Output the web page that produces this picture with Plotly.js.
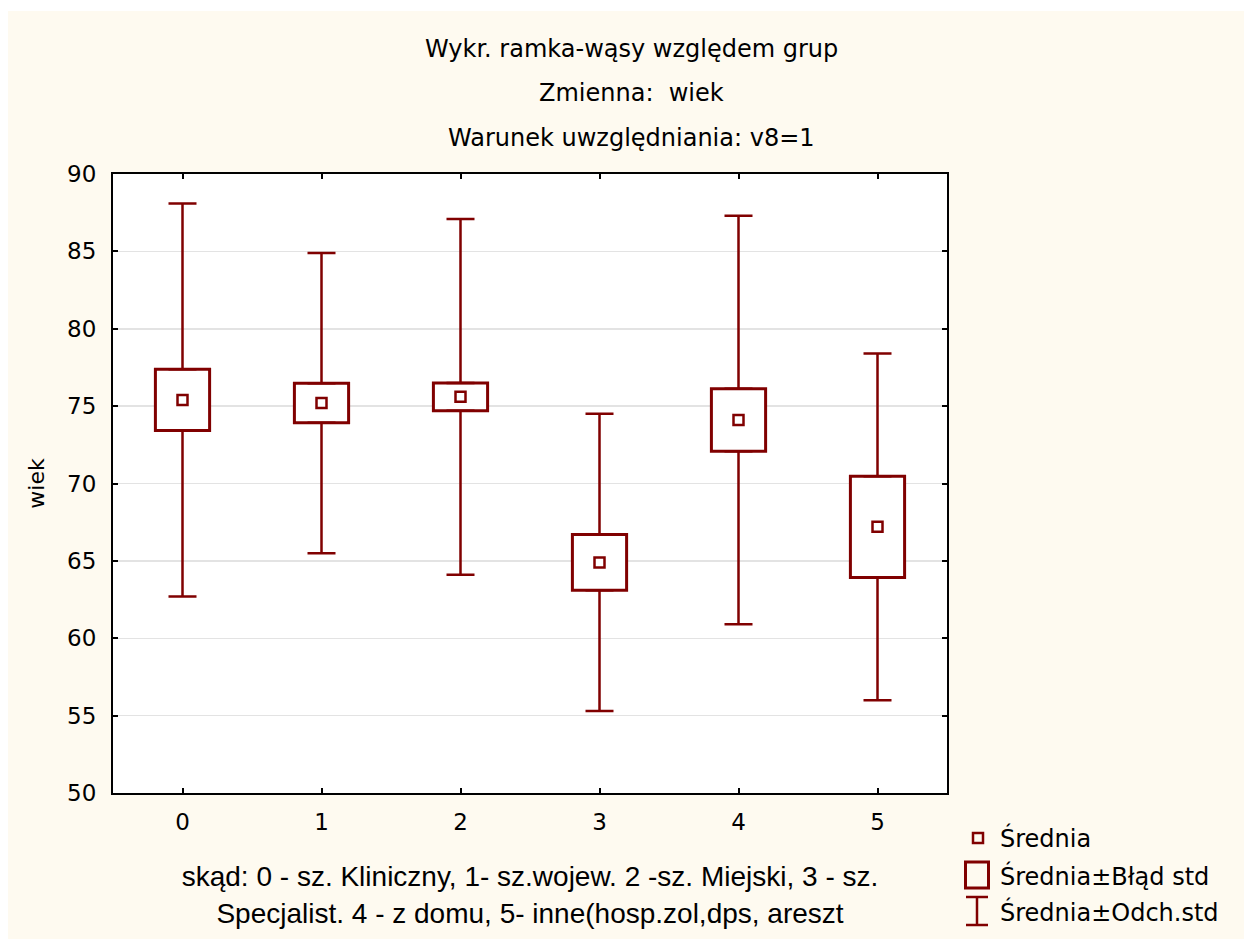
<!DOCTYPE html>
<html>
<head>
<meta charset="utf-8">
<script src="https://cdn.plot.ly/plotly-3.0.1.min.js"></script>
<style>html,body{margin:0;padding:0;background:#fff;}</style>
</head>
<body>
<div id="chart" style="width:1244px;height:939px;"></div>
<script>
// ---- data ----
const groups = [0, 1, 2, 3, 4, 5];
const tickLabels = ['0', '1', '2', '3', '4', '5'];
const means = [75.4, 75.2, 75.6, 64.9, 74.1, 67.2];     // Średnia
const stdErr = [1.98, 1.28, 0.9, 1.8, 2.02, 3.27];      // Błąd std
const stdDev = [12.7, 9.7, 11.5, 9.6, 13.2, 11.2];      // Odch.std

const titleLines = ['Wykr. ramka-wąsy względem grup', 'Zmienna:  wiek', 'Warunek uwzględniania: v8=1'];
const xTitle = 'skąd: 0 - sz. Kliniczny, 1- sz.wojew. 2 -sz. Miejski, 3 - sz.<br>Specjalist. 4 - z domu, 5- inne(hosp.zol,dps, areszt';
const yTitle = 'wiek';
const legendLabels = ['Średnia', 'Średnia±Błąd std', 'Średnia±Odch.std'];

// ---- styling ----
const RED = '#800000';
const W = 1244, H = 939;
const M = {l: 113, r: 297, t: 174, b: 146};
const PW = W - M.l - M.r, PH = H - M.t - M.b;
const px2x = p => (p - M.l) / PW;
const py2y = p => (H - M.b - p) / PH;
const WIDE = 'DejaVu Sans, Verdana, sans-serif';
const ARIAL = 'Liberation Sans, Arial, sans-serif';

const boxBase = means.map((m, i) => m - stdErr[i]);
const boxLen = stdErr.map(s => 2 * s);
const boxTop = means.map((m, i) => m + stdErr[i]);
const whiskLen = stdDev.map((s, i) => s - stdErr[i]);
const zeros = means.map(() => 0);

const traces = [
  { // box: mean ± standard error
    type: 'bar', x: groups, y: boxLen, base: boxBase, width: 0.39,
    marker: {color: '#ffffff', line: {color: RED, width: 3}},
    hoverinfo: 'skip', showlegend: false
  },
  { // upper whisker
    type: 'scatter', mode: 'markers', x: groups, y: boxTop,
    marker: {size: 1, color: 'rgba(0,0,0,0)'},
    error_y: {type: 'data', symmetric: false, array: whiskLen, arrayminus: zeros,
              color: RED, thickness: 2.5, width: 14},
    hoverinfo: 'skip', showlegend: false
  },
  { // lower whisker
    type: 'scatter', mode: 'markers', x: groups, y: boxBase,
    marker: {size: 1, color: 'rgba(0,0,0,0)'},
    error_y: {type: 'data', symmetric: false, array: zeros, arrayminus: whiskLen,
              color: RED, thickness: 2.5, width: 14},
    hoverinfo: 'skip', showlegend: false
  },
  { // mean
    type: 'scatter', mode: 'markers', x: groups, y: means, name: legendLabels[0],
    marker: {symbol: 'square-open', size: 10, color: RED, line: {color: RED, width: 2.5}},
    showlegend: false
  }
];

const shapes = [
  // white border strips (outside the cream panel)
  {type: 'rect', xref: 'paper', yref: 'paper', layer: 'below',
   x0: px2x(0), x1: px2x(W), y0: py2y(0), y1: py2y(11), fillcolor: '#ffffff', line: {width: 0}},
  {type: 'rect', xref: 'paper', yref: 'paper', layer: 'below',
   x0: px2x(0), x1: px2x(8), y0: py2y(0), y1: py2y(H), fillcolor: '#ffffff', line: {width: 0}},
  // legend icons
  {type: 'rect', xref: 'paper', yref: 'paper',
   x0: px2x(973), x1: px2x(983), y0: py2y(833), y1: py2y(843), line: {color: RED, width: 2.5}},
  {type: 'rect', xref: 'paper', yref: 'paper',
   x0: px2x(965.5), x1: px2x(988.5), y0: py2y(862), y1: py2y(888), line: {color: RED, width: 3}},
  {type: 'line', xref: 'paper', yref: 'paper',
   x0: px2x(977), x1: px2x(977), y0: py2y(897), y1: py2y(925), line: {color: RED, width: 2.5}},
  {type: 'line', xref: 'paper', yref: 'paper',
   x0: px2x(966), x1: px2x(988), y0: py2y(897), y1: py2y(897), line: {color: RED, width: 2.5}},
  {type: 'line', xref: 'paper', yref: 'paper',
   x0: px2x(966), x1: px2x(988), y0: py2y(925), y1: py2y(925), line: {color: RED, width: 2.5}}
];

const titleY = [49, 93, 138];
const legendY = [838, 876, 912];
const annotations = [];
titleLines.forEach((t, i) => annotations.push({
  text: t, xref: 'paper', yref: 'paper', x: px2x(631), y: py2y(titleY[i]),
  xanchor: 'center', yanchor: 'middle', showarrow: false,
  font: {family: WIDE, size: 24, color: '#000'}
}));
legendLabels.forEach((t, i) => annotations.push({
  text: t, xref: 'paper', yref: 'paper', x: px2x(998), y: py2y(legendY[i]),
  xanchor: 'left', yanchor: 'middle', showarrow: false,
  font: {family: WIDE, size: 24, color: '#000'}
}));

const axisCommon = {
  showline: true, linecolor: '#000', linewidth: 2, mirror: 'ticks',
  ticks: 'inside', ticklen: 5, tickwidth: 2, tickcolor: '#000',
  zeroline: false, fixedrange: true,
  tickfont: {family: WIDE, size: 23, color: '#000'}
};

const layout = {
  width: W, height: H,
  margin: M,
  paper_bgcolor: '#fefaf0',
  plot_bgcolor: '#ffffff',
  showlegend: false,
  barmode: 'overlay',
  xaxis: Object.assign({}, axisCommon, {
    range: [-0.5, 5.5], tickvals: groups, ticktext: tickLabels, showgrid: false,
    ticklabelstandoff: 7,
    title: {text: xTitle, font: {family: ARIAL, size: 28, color: '#000'}, standoff: 33}
  }),
  yaxis: Object.assign({}, axisCommon, {
    range: [50, 90], dtick: 5, showgrid: true, gridcolor: '#e3e3e3', gridwidth: 1.5,
    ticklabelstandoff: 10,
    title: {text: yTitle, font: {family: WIDE, size: 22, color: '#000'}, standoff: 16}
  }),
  shapes: shapes,
  annotations: annotations
};

Plotly.newPlot('chart', traces, layout, {staticPlot: true});
</script>
</body>
</html>
